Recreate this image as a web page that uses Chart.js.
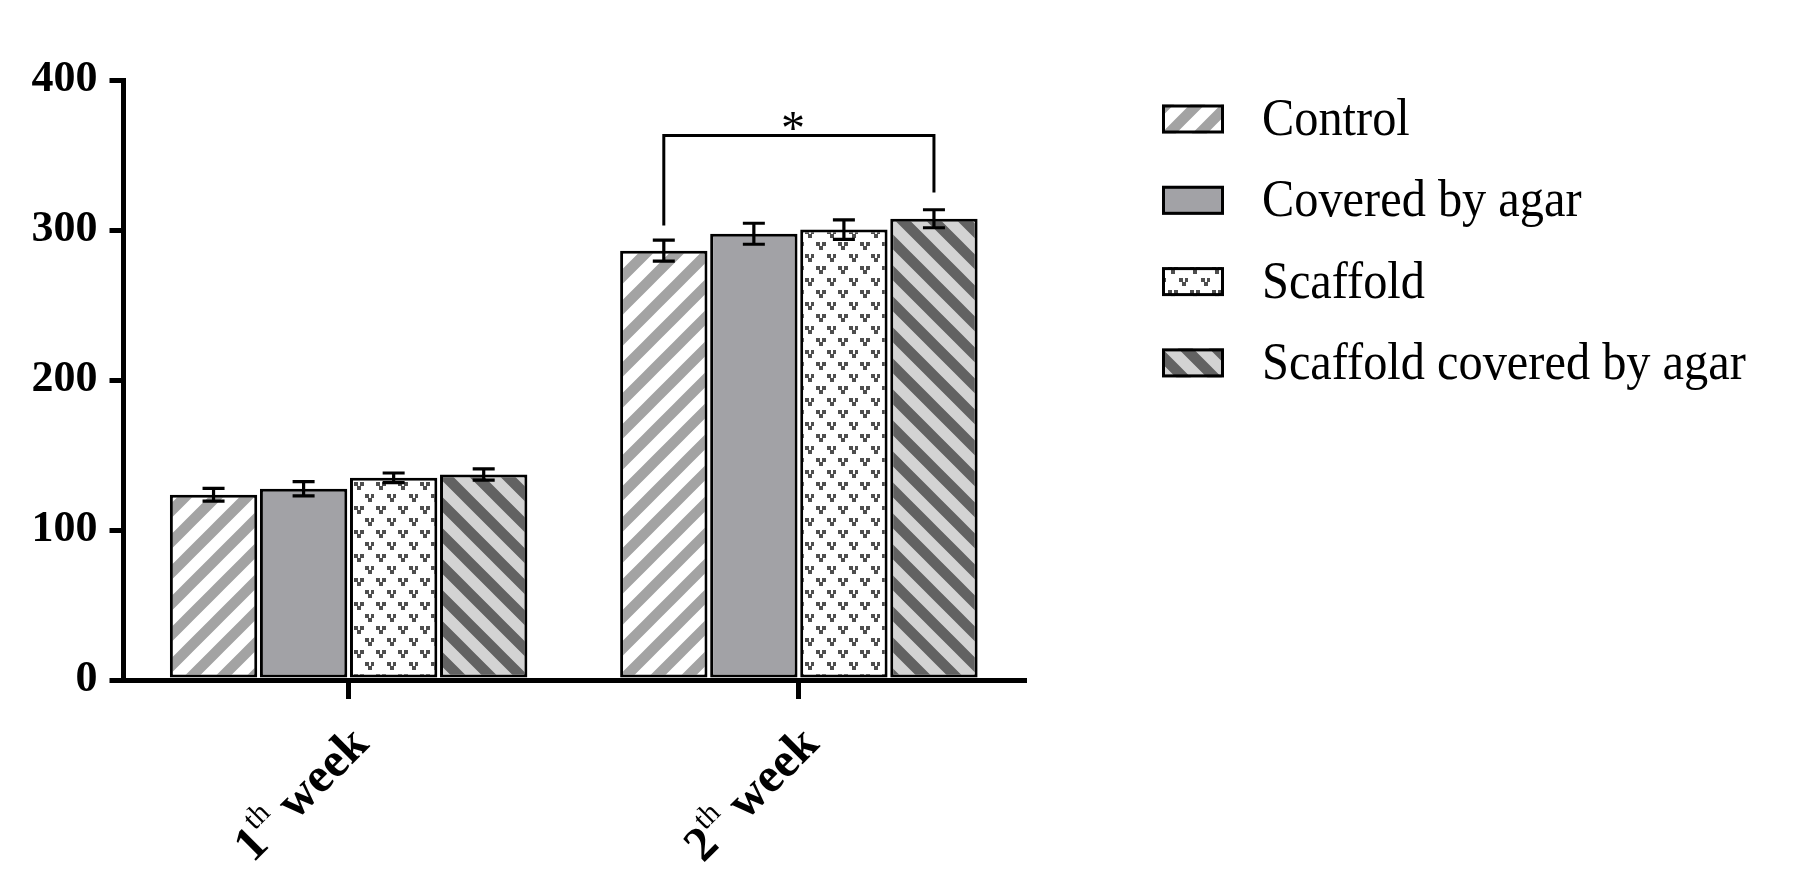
<!DOCTYPE html>
<html>
<head>
<meta charset="utf-8">
<script src="https://cdn.jsdelivr.net/npm/chart.js@4.4.1/dist/chart.umd.min.js"></script>
<style>
  body { margin: 0; background: #fff; }
  canvas { display: block; }
</style>
</head>
<body>
<canvas id="chart" width="1801" height="892"></canvas>
<script>
const categories = ["1th week", "2th week"];
const seriesNames = ["Control", "Covered by agar", "Scaffold", "Scaffold covered by agar"];

const control = [123.5, 286.2];
const controlErr = [4.2, 7];
const covered = [127.5, 297.5];
const coveredErr = [4.8, 7];
const scaffold = [134.8, 300.3];
const scaffoldErr = [3.2, 6.5];
const scaffoldAgar = [137, 307.5];
const scaffoldAgarErr = [3.7, 6];

const yTicks = [0, 100, 200, 300, 400];

// significance bracket: Control vs Scaffold covered by agar, 2th week
const sigCategory = 1;
const sigFrom = 0;
const sigTo = 3;
const sigTop = 363;
const sigLeftEnd = 303;
const sigRightEnd = 325;
const sigText = "*";

const FONT = "'Liberation Serif', 'Times New Roman', serif";

function makeCanvas(w, h) {
  const c = document.createElement("canvas");
  c.width = w;
  c.height = h;
  return c;
}

function stripes(bg, fg, dir) {
  const T = 31;
  const c = makeCanvas(T, T);
  const g = c.getContext("2d");
  g.fillStyle = bg;
  g.fillRect(0, 0, T, T);
  g.strokeStyle = fg;
  g.lineWidth = 10.5;
  g.beginPath();
  // lines run past the tile so the butt caps don't cut the corners
  for (let k = -1; k <= 1; k++) {
    if (dir === "/") {
      g.moveTo(k * T - T, 2 * T);
      g.lineTo(k * T + 2 * T, -T);
    } else {
      g.moveTo(k * T - T, -T);
      g.lineTo(k * T + 2 * T, 2 * T);
    }
  }
  g.stroke();
  return g.createPattern(c, "repeat");
}

function dots() {
  const c = makeCanvas(22, 24);
  const g = c.getContext("2d");
  g.fillStyle = "#fff";
  g.fillRect(0, 0, 22, 24);
  g.fillStyle = "#4e4e4e";
  [[2, 2], [13, 14]].forEach(([x, y]) => {
    g.fillRect(x, y, 4, 4);
    g.fillRect(x + 6, y, 4, 4);
    g.fillRect(x + 3, y + 4, 4, 4);
  });
  return g.createPattern(c, "repeat");
}

const ctx = document.getElementById("chart").getContext("2d");
const fills = [
  stripes("#ffffff", "#a3a3a3", "/"),
  "#a2a2a6",
  dots(),
  stripes("#d3d3d3", "#626262", "\\"),
];
const values = [control, covered, scaffold, scaffoldAgar];
const errors = [controlErr, coveredErr, scaffoldErr, scaffoldAgarErr];

const errorBars = {
  id: "errorBars",
  afterDatasetsDraw(chart) {
    const y = chart.scales.y;
    const c = chart.ctx;
    c.save();
    c.strokeStyle = "#000";
    c.lineWidth = 3.2;
    chart.data.datasets.forEach((ds, i) => {
      chart.getDatasetMeta(i).data.forEach((bar, j) => {
        const top = y.getPixelForValue(ds.data[j] + errors[i][j]);
        const bot = y.getPixelForValue(ds.data[j] - errors[i][j]);
        c.beginPath();
        c.moveTo(bar.x, top);
        c.lineTo(bar.x, bot);
        c.moveTo(bar.x - 11, top);
        c.lineTo(bar.x + 11, top);
        c.moveTo(bar.x - 11, bot);
        c.lineTo(bar.x + 11, bot);
        c.stroke();
      });
    });
    c.restore();
  },
};

const bracket = {
  id: "bracket",
  afterDatasetsDraw(chart) {
    const y = chart.scales.y;
    const c = chart.ctx;
    const x1 = chart.getDatasetMeta(sigFrom).data[sigCategory].x;
    const x2 = chart.getDatasetMeta(sigTo).data[sigCategory].x;
    const yt = y.getPixelForValue(sigTop);
    c.save();
    c.strokeStyle = "#000";
    c.lineWidth = 3;
    c.beginPath();
    c.moveTo(x1, y.getPixelForValue(sigLeftEnd));
    c.lineTo(x1, yt);
    c.lineTo(x2, yt);
    c.lineTo(x2, y.getPixelForValue(sigRightEnd));
    c.stroke();
    c.fillStyle = "#000";
    c.font = "48px " + FONT;
    c.textAlign = "center";
    c.textBaseline = "alphabetic";
    c.fillText(sigText, (x1 + x2) / 2 - 6, yt + 8);
    c.restore();
  },
};

const xLabels = {
  id: "xLabels",
  afterDraw(chart) {
    const xs = chart.scales.x;
    const c = chart.ctx;
    const big = "bold 49px " + FONT;
    const small = "30px " + FONT;
    c.save();
    c.fillStyle = "#000";
    chart.data.labels.forEach((label, i) => {
      const m = label.match(/^(\d+)(th)(.*)$/);
      const parts = [
        [m[1], big, 0],
        [m[2], small, -22],
        [m[3], big, 0],
      ];
      let w = 0;
      parts.forEach((p) => {
        c.font = p[1];
        w += c.measureText(p[0]).width;
      });
      const x = xs.getPixelForTick(i);
      c.save();
      c.translate(x + 22, chart.chartArea.bottom + 66);
      c.rotate(-Math.PI / 4);
      c.textBaseline = "alphabetic";
      c.textAlign = "left";
      let px = -w;
      parts.forEach((p) => {
        c.font = p[1];
        c.fillText(p[0], px, p[2]);
        px += c.measureText(p[0]).width;
      });
      c.restore();
    });
    c.restore();
  },
};

const legendBoxes = {
  id: "legendBoxes",
  afterDraw(chart) {
    const c = chart.ctx;
    c.save();
    seriesNames.forEach((name, i) => {
      const cy = 119 + i * 81.3;
      c.fillStyle = fills[i];
      c.fillRect(1162, cy - 14.5, 62, 29);
      c.strokeStyle = "#000";
      c.lineWidth = 3;
      c.strokeRect(1163.5, cy - 13, 59, 26);
      c.save();
      c.translate(1262, cy + 16);
      c.scale(0.93, 1);
      c.fillStyle = "#000";
      c.font = "52px " + FONT;
      c.textBaseline = "alphabetic";
      c.fillText(name, 0, 0);
      c.restore();
    });
    c.restore();
  },
};

new Chart(ctx, {
  type: "bar",
  data: {
    labels: categories,
    datasets: seriesNames.map((name, i) => ({
      label: name,
      data: values[i],
      backgroundColor: fills[i],
      borderColor: "#000",
      borderWidth: 3,
      borderSkipped: false,
      categoryPercentage: 0.8,
      barPercentage: 0.97,
    })),
  },
  options: {
    responsive: false,
    animation: false,
    layout: { padding: { top: 80, right: 777, left: 0, bottom: 0 } },
    plugins: {
      legend: { display: false },
      tooltip: { enabled: false },
    },
    scales: {
      x: {
        grid: {
          drawOnChartArea: false,
          offset: false,
          tickLength: 19,
          lineWidth: 5,
          color: "#000",
          tickColor: "#000",
        },
        border: { display: true, width: 5, color: "#000" },
        ticks: { display: false },
        afterFit(s) {
          s.height = 212;
        },
      },
      y: {
        min: 0,
        max: 400,
        afterBuildTicks(s) {
          s.ticks = yTicks.map((v) => ({ value: v }));
        },
        ticks: {
          color: "#000",
          padding: 12,
          font: { family: FONT, size: 44, weight: "bold" },
        },
        grid: {
          drawOnChartArea: false,
          tickLength: 14,
          lineWidth: 5,
          color: "#000",
          tickColor: "#000",
        },
        border: { display: true, width: 5, color: "#000" },
        afterFit(s) {
          s.width = 123.5;
        },
      },
    },
  },
  plugins: [errorBars, bracket, xLabels, legendBoxes],
});
</script>
</body>
</html>
